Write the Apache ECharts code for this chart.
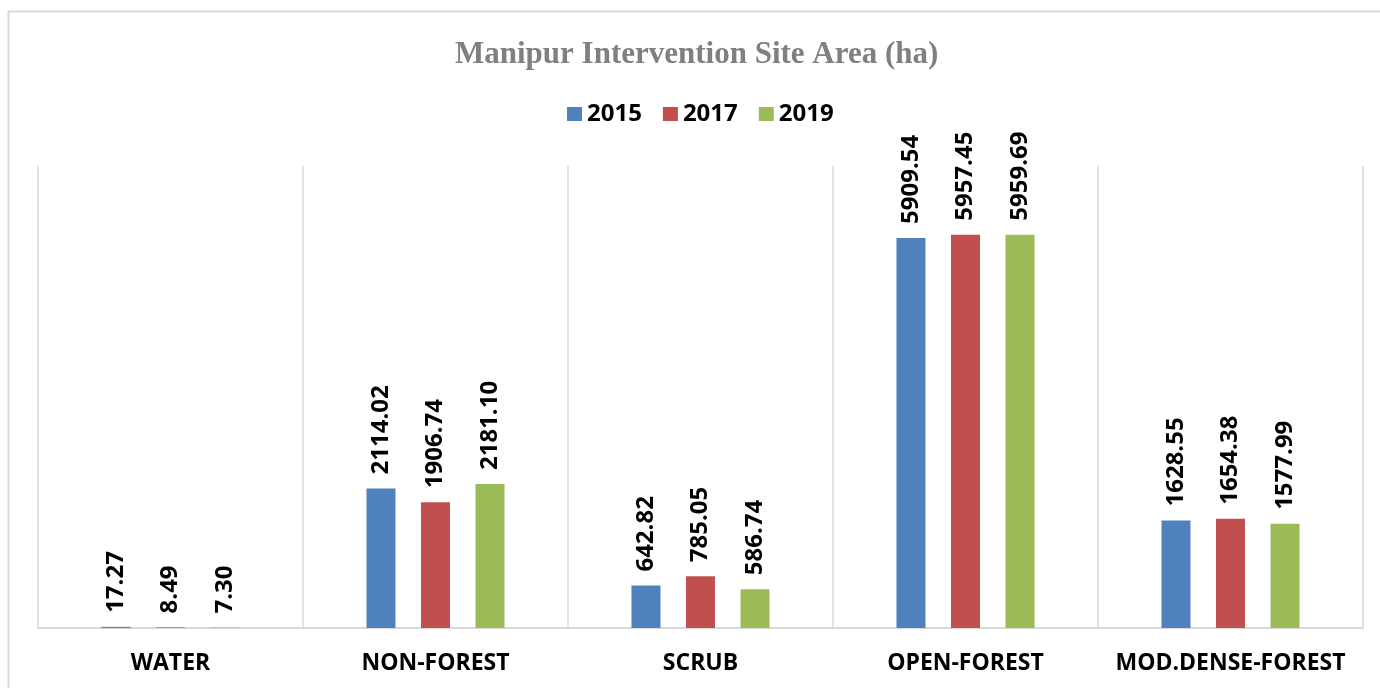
<!DOCTYPE html>
<html>
<head>
<meta charset="utf-8">
<script src="https://cdn.jsdelivr.net/npm/echarts@6/dist/echarts.min.js"></script>
<style>
html, body { margin: 0; padding: 0; background: #fff; }
#chart { width: 1380px; height: 688px; }
</style>
</head>
<body>
<div id="chart"></div>
<script>
// land cover classes and area per year (ha)
var categories = ['WATER', 'NON-FOREST', 'SCRUB', 'OPEN-FOREST', 'MOD.DENSE-FOREST']
var years = ['2015', '2017', '2019']
var area2015 = [17.27, 2114.02, 642.82, 5909.54, 1628.55]
var area2017 = [8.49, 1906.74, 785.05, 5957.45, 1654.38]
var area2019 = [7.30, 2181.10, 586.74, 5959.69, 1577.99]
var colors = ['#4f81bd', '#c0504d', '#9bbb59']

var labelStyle = {
  show: true,
  position: 'top',
  rotate: 90,
  align: 'left',
  verticalAlign: 'middle',
  distance: 14,
  color: '#000',
  fontFamily: 'Open Sans',
  fontWeight: 'bold',
  fontSize: 24,
  formatter: function (p) {
    return p.value.toFixed(2)
  }
}

function makeSeries (name, data, i) {
  return {
    name: name,
    type: 'bar',
    data: data,
    barWidth: 29,
    barGap: '88%',
    itemStyle: { color: colors[i] },
    label: labelStyle,
    labelLayout: { hideOverlap: false }
  }
}

var option = {
  animation: false,
  graphic: [{
    type: 'rect',
    shape: { x: 8.5, y: 11.5, width: 1400, height: 700 },
    style: { fill: 'none', stroke: '#d9d9d9', lineWidth: 2 }
  }],
  title: {
    text: 'Manipur Intervention Site Area (ha)',
    left: 450,
    top: 34,
    textStyle: {
      fontFamily: 'Liberation Serif',
      fontWeight: 'bold',
      fontSize: 31,
      color: '#808080'
    }
  },
  legend: {
    data: years,
    top: 97,
    left: 562,
    itemWidth: 15,
    itemHeight: 14,
    itemGap: 21,
    icon: 'rect',
    textStyle: {
      fontFamily: 'Open Sans',
      fontWeight: 'bold',
      fontSize: 24,
      color: '#000'
    }
  },
  grid: {
    left: 38,
    right: 17,
    top: 166,
    bottom: 60
  },
  xAxis: {
    type: 'category',
    data: categories,
    axisLine: { lineStyle: { color: '#d9d9d9', width: 2 } },
    axisTick: { show: false, interval: 0 },
    splitLine: { show: true, interval: 0, lineStyle: { color: '#d9d9d9', width: 1.5 } },
    axisLabel: {
      interval: 0,
      margin: 24,
      color: '#000',
      fontFamily: 'Open Sans',
      fontWeight: 'bold',
      fontSize: 23
    }
  },
  yAxis: {
    type: 'value',
    min: 0,
    max: 7000,
    show: false,
    splitLine: { show: false }
  },
  series: [
    makeSeries(years[0], area2015, 0),
    makeSeries(years[1], area2017, 1),
    makeSeries(years[2], area2019, 2)
  ]
}

var chart = echarts.init(document.getElementById('chart'))
chart.setOption(option)
</script>
</body>
</html>
